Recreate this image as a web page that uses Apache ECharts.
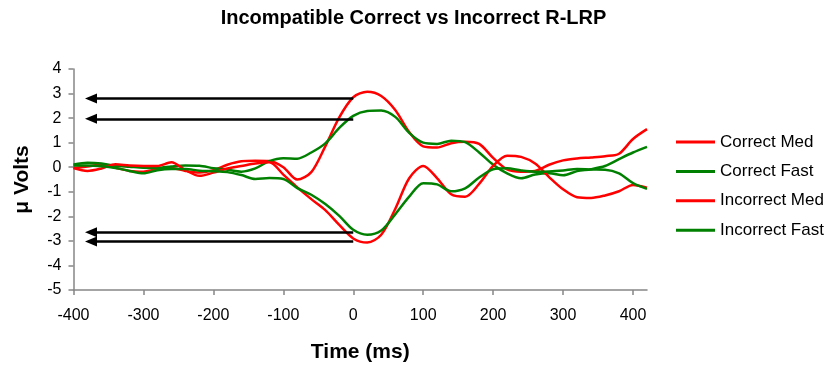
<!DOCTYPE html>
<html>
<head>
<meta charset="utf-8">
<script src="https://cdn.jsdelivr.net/npm/echarts@6/dist/echarts.min.js"></script>
<style>
html,body{margin:0;padding:0;background:#fff;}
#chart{width:827px;height:368px;}
</style>
</head>
<body>
<div id="chart"></div>
<script>
var times = [-400,-380,-360,-340,-320,-300,-280,-260,-240,-220,-200,-180,-160,-140,-120,-100,-80,-60,-40,-20,0,20,40,60,80,100,120,140,160,180,200,220,240,260,280,300,320,340,360,380,400,420];

var correctMed = [-0.03,0.03,0.1,-0.02,-0.15,-0.18,-0.08,-0.03,-0.15,-0.22,-0.12,0.1,0.24,0.26,0.25,0.0,-0.5,-0.2,0.85,2.03,2.85,3.07,2.9,2.33,1.43,0.85,0.8,0.98,1.04,0.95,0.38,-0.09,-0.18,-0.15,0.1,0.28,0.36,0.4,0.45,0.55,1.15,1.55];
var correctFast = [0.11,0.18,0.15,0.06,0.02,-0.02,-0.03,0.03,0.07,0.06,-0.04,-0.1,-0.18,-0.05,0.25,0.37,0.35,0.6,0.97,1.6,2.09,2.29,2.31,2.05,1.4,1.0,0.95,1.08,1.02,0.6,0.1,-0.25,-0.45,-0.3,-0.25,-0.33,-0.16,-0.08,0.05,0.33,0.6,0.83];
var incorrectMed = [-0.03,-0.15,-0.05,0.12,0.07,0.05,0.05,0.2,-0.12,-0.35,-0.22,-0.05,0.05,0.15,0.2,-0.3,-0.82,-1.3,-1.75,-2.35,-2.9,-3.07,-2.75,-1.7,-0.45,0.05,-0.45,-1.1,-1.2,-0.68,0.05,0.47,0.42,0.15,-0.4,-0.9,-1.22,-1.25,-1.15,-0.98,-0.72,-0.83];
var incorrectFast = [0.07,0.07,0.04,-0.03,-0.15,-0.25,-0.12,-0.07,-0.07,-0.14,-0.16,-0.2,-0.32,-0.48,-0.44,-0.48,-0.85,-1.12,-1.5,-1.98,-2.55,-2.75,-2.58,-1.92,-1.2,-0.65,-0.7,-0.98,-0.86,-0.42,-0.08,-0.04,-0.13,-0.18,-0.17,-0.13,-0.07,-0.09,-0.1,-0.25,-0.65,-0.88];

var seriesNames = ['Correct Med','Correct Fast','Incorrect Med','Incorrect Fast'];
var xTicks = [-400,-300,-200,-100,0,100,200,300,400];
var arrowLevels = [2.8, 1.97, -2.65, -3.02];
var arrowFrom = 0;
var arrowTo = -375;

function pairs(vals){ return times.map(function(t,i){ return [t, vals[i]]; }); }

var FONT = 'Liberation Sans, Arial, sans-serif';
var RED = '#FF0000', GREEN = '#008000';

function mkSeries(name, vals, color){
  return {
    name: name, type: 'line', data: pairs(vals), showSymbol: false, symbol: 'none',
    smooth: 0.3, lineStyle: {color: color, width: 2.5}, itemStyle: {color: color},
    z: 3
  };
}

var series = [
  mkSeries(seriesNames[0], correctMed, RED),
  mkSeries(seriesNames[1], correctFast, GREEN),
  mkSeries(seriesNames[2], incorrectMed, RED),
  mkSeries(seriesNames[3], incorrectFast, GREEN),
  {
    type: 'line', data: [], silent: true, z: 2,
    markLine: {
      silent: true, animation: false,
      symbol: ['none', 'triangle'], symbolSize: [10, 12],
      label: {show: false},
      lineStyle: {color: '#000', width: 2.5, type: 'solid'},
      emphasis: {disabled: true},
      data: arrowLevels.map(function(v){ return [{coord: [arrowFrom, v]}, {coord: [arrowTo, v]}]; })
    }
  }
];

var chart = echarts.init(document.getElementById('chart'), null, {renderer: 'canvas'});
chart.setOption({
  animation: false,
  backgroundColor: '#fff',
  title: {
    text: 'Incompatible Correct vs Incorrect R-LRP', left: 'center', top: 3,
    textStyle: {fontFamily: FONT, fontWeight: 'bold', fontSize: 20, color: '#000'}
  },
  legend: {
    orient: 'vertical', left: 671, top: 127, itemWidth: 39, itemHeight: 3, itemGap: 9.4,
    icon: 'rect', data: seriesNames,
    textStyle: {fontFamily: FONT, fontSize: 17, color: '#000', lineHeight: 20}
  },
  grid: {left: 73.5, right: 180, top: 69, bottom: 76.5, containLabel: false},
  xAxis: {
    type: 'value', min: -400, max: 420, interval: 100,
    name: 'Time (ms)', nameLocation: 'middle', nameGap: 52,
    nameTextStyle: {fontFamily: FONT, fontWeight: 'bold', fontSize: 21, color: '#000'},
    axisLine: {show: true, onZero: false, lineStyle: {color: '#868686', width: 1.5}},
    axisTick: {show: true, length: 5, inside: false, customValues: xTicks, lineStyle: {color: '#868686', width: 1.5}},
    axisLabel: {customValues: xTicks, margin: 18, fontFamily: FONT, fontSize: 16, color: '#000'},
    splitLine: {show: false}
  },
  yAxis: {
    type: 'value', min: -5, max: 4, interval: 1,
    name: 'μ Volts', nameLocation: 'middle', nameGap: 41, nameRotate: 90,
    nameTextStyle: {fontFamily: FONT, fontWeight: 'bold', fontSize: 21, color: '#000'},
    axisLine: {show: true, onZero: false, lineStyle: {color: '#868686', width: 1.5}},
    axisTick: {show: true, length: 5, inside: false, lineStyle: {color: '#868686', width: 1.5}},
    axisLabel: {margin: 12, fontFamily: FONT, fontSize: 16, color: '#000'},
    splitLine: {show: false}
  },
  series: series
});
</script>
</body>
</html>
